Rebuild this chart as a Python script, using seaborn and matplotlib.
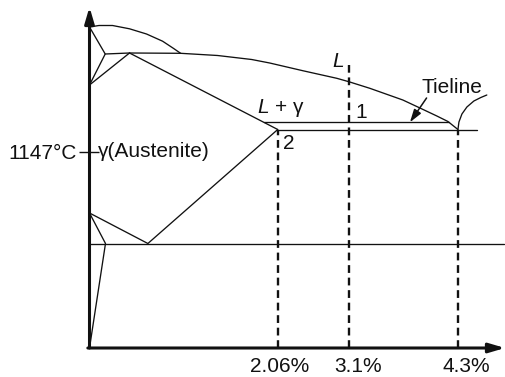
import numpy as np
import matplotlib
matplotlib.use("Agg")
import matplotlib.pyplot as plt
import seaborn as sns

# ---------------------------------------------------------------
# Schematic Fe–C diagram (carbon wt% vs. relative height)
# ---------------------------------------------------------------

# delta-iron liquidus: melting point of Fe -> peritectic point B
delta_liq_c = [0.0, 0.104, 0.252, 0.438, 0.624, 0.800, 0.921, 0.997]
delta_liq_h = [321.0, 322.5, 322.5, 319.2, 314.0, 306.8, 299.5, 294.7]

# delta-phase boundaries A-H-N and N-J
delta_c = [0.0, 0.172, 0.0]
delta_h = [321.0, 294.0, 263.0]
nj_c = [0.0, 0.438]
nj_h = [263.0, 295.0]

# peritectic line H-J-B continuing into the liquidus B -> C (eutectic point)
liq_c = [0.172, 0.438, 0.997, 1.402, 1.775, 1.972, 2.426, 2.924, 3.1,
         3.331, 3.694, 3.882, 4.068, 4.190, 4.3]
liq_h = [294.0, 295.0, 294.7, 292.5, 288.5, 285.0, 277.3, 269.7, 266.3,
         259.7, 248.0, 240.0, 232.0, 226.5, 218.5]

# austenite solidus J -> E
sol_c = [0.438, 2.06]
sol_h = [295.0, 218.5]

# tie line through the L + gamma field and the eutectic line
tie_c = [1.905, 4.2]
tie_h = [225.7, 225.7]
eut_c = [2.06, 4.509]
eut_h = [218.5, 218.5]

# start of the cementite liquidus beyond C
cem_c = [4.3, 4.311, 4.344, 4.399, 4.476, 4.553, 4.619]
cem_h = [218.5, 226.0, 234.0, 241.0, 247.0, 250.5, 253.0]

# lower part: G-S-E, G-P-Q and the eutectoid line
gse_c = [0.0, 0.639, 2.06]
gse_h = [135.0, 104.5, 218.5]
gpq_c = [0.0, 0.175, 0.0]
gpq_h = [135.0, 104.5, 0.0]
eutectoid_c = [0.0, 4.806]
eutectoid_h = [104.5, 104.5]

# vertical composition guides
guide_c = [2.06, 3.1, 4.3]
guide_top = [218.5, 283.0, 218.5]
guide_labels = ["2.06%", "3.1%", "4.3%"]

# temperature mark on the vertical axis
temp_tick = [196.3]
temp_labels = ["1147°C"]

# composition spacing of the (non-uniform) horizontal axis
scale_c = [0.0, 2.06, 3.1, 4.3, 4.82]
scale_span = [0.0, 188.0, 259.0, 368.0, 415.0]

# ---------------------------------------------------------------
sns.set_theme(style="white")
plt.rcParams["font.family"] = ["Liberation Sans", "DejaVu Sans"]
plt.rcParams["mathtext.fontset"] = "custom"
plt.rcParams["mathtext.it"] = "Liberation Sans:italic"
plt.rcParams["mathtext.rm"] = "Liberation Sans"

INK = "#111111"
FS = 15

fig = plt.figure(figsize=(5.06, 3.77), dpi=100)
fig.patch.set_facecolor("white")
ax = fig.add_axes([89.5 / 506, 29 / 377, 415.5 / 506, 341 / 377])
ax.set_facecolor("white")


def fwd(x):
    return np.interp(x, scale_c, scale_span)


def inv(p):
    return np.interp(p, scale_span, scale_c)


def curve(xs, ys, lw=0.95, **kw):
    sns.lineplot(x=xs, y=ys, sort=False, estimator=None, ax=ax,
                 color=INK, lw=lw, legend=False, **kw)


for xs, ys in [(delta_liq_c, delta_liq_h), (delta_c, delta_h), (nj_c, nj_h),
               (liq_c, liq_h), (sol_c, sol_h), (tie_c, tie_h),
               (eut_c, eut_h), (cem_c, cem_h), (gse_c, gse_h),
               (gpq_c, gpq_h), (eutectoid_c, eutectoid_h)]:
    curve(xs, ys)

for c, top in zip(guide_c, guide_top):
    curve([c, c], [0.0, top], lw=1.7, linestyle=(0, (3.3, 2.0)))

ax.set_xscale("function", functions=(fwd, inv))
ax.set_xlim(0, 4.82)
ax.set_ylim(0, 341)

for s in ax.spines.values():
    s.set_visible(False)

ax.set_xticks([])
ax.set_yticks(temp_tick, labels=temp_labels)
ax.tick_params(axis="y", left=True, direction="inout", length=15,
               width=1.0, color=INK, pad=2.0, labelsize=FS, labelcolor=INK)
ax.set_xlabel("")
ax.set_ylabel("")

# axes drawn as arrows
arrow_kw = dict(arrowstyle="-|>,head_length=0.95,head_width=0.28", lw=2.2,
                color=INK, shrinkA=0, shrinkB=0, mutation_scale=10)
ax.annotate("", xy=(0, 1), xytext=(0, 0), xycoords="axes fraction",
            arrowprops=arrow_kw, annotation_clip=False)
ax.annotate("", xy=(1, 0), xytext=(-0.004, 0), xycoords="axes fraction",
            arrowprops=arrow_kw, annotation_clip=False)

# composition labels under the guides
label_dx = [1.4, 6.7, 6.0]
for c, lab, dx in zip(guide_c, guide_labels, label_dx):
    ax.annotate(lab, xy=(c, 0), xycoords=("data", "axes fraction"),
                xytext=(dx, -17.1), textcoords="offset points",
                ha="center", va="baseline", fontsize=FS, color=INK,
                annotation_clip=False)

# region and point labels
ax.text(0.088, 191.3, "γ(Austenite)", ha="left", va="baseline",
        fontsize=FS, color=INK)
ax.text(2.939, 286.5, "L", ha="center", va="center", fontsize=FS,
        fontstyle="italic", color=INK)
ax.text(1.830, 235.3, "$L$ + γ", ha="left", va="baseline", fontsize=FS,
        color=INK)
ax.text(3.232, 229.7, "1", ha="center", va="baseline", fontsize=FS, color=INK)
ax.text(2.228, 198.7, "2", ha="center", va="baseline", fontsize=FS, color=INK)
ax.text(4.231, 255.3, "Tieline", ha="center", va="baseline", fontsize=FS,
        color=INK)
ax.annotate("", xy=(3.772, 225.7), xytext=(3.955, 250.0),
            arrowprops=dict(arrowstyle="-|>,head_length=0.7,head_width=0.22",
                            lw=1.1, color=INK, shrinkA=0, shrinkB=0,
                            mutation_scale=11))

fig.savefig("out.png", dpi=100, facecolor="white")
